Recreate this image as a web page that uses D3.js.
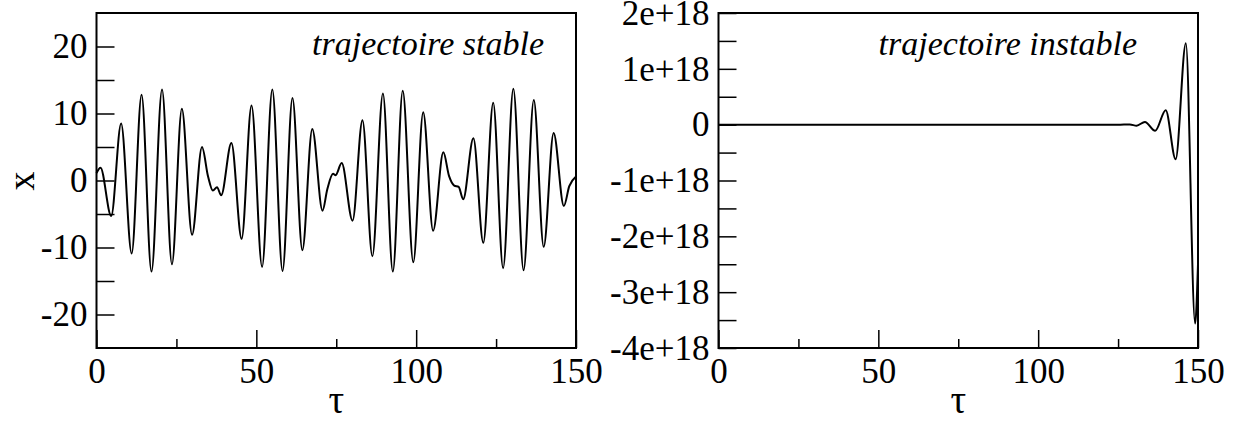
<!DOCTYPE html>
<html>
<head>
<meta charset="utf-8">
<script src="https://cdn.jsdelivr.net/npm/d3@7"></script>
<style>
  html, body { margin: 0; padding: 0; background: #fff; }
  svg { display: block; }
  text { font-family: "Liberation Serif", "Times New Roman", serif; fill: #000; }
</style>
</head>
<body>
<svg id="chart" width="1234" height="421"></svg>
<script>
// ---- data ----
// stable trajectory: time (tau) and x, read at extrema / shoulders
const stableT = [0, 1.25, 4.6, 7.7, 11.0, 14.1, 17.2, 20.5, 23.6, 26.7, 29.9, 33.0, 34.9, 36.4, 37.7, 39.0,
  42.2, 45.4, 48.5, 51.8, 55.0, 58.2, 61.3, 64.4, 67.5, 70.7, 72.2, 74.0, 74.8, 76.7,
  80.1, 83.2, 86.3, 89.6, 92.7, 95.8, 99.1, 102.2, 105.3, 108.5, 110.3, 111.9, 113.3, 114.7,
  117.9, 121.0, 124.1, 127.2, 130.4, 133.6, 136.8, 139.9, 143.0, 146.2, 147.9, 150];
const stableX = [1.1, 1.9, -5.3, 8.5, -10.9, 12.8, -13.6, 13.6, -12.5, 10.7, -8.1, 5.0, 0.6, -1.5, -1.0, -2.2,
  5.6, -8.7, 11.2, -12.9, 13.6, -13.5, 12.3, -10.4, 7.7, -4.5, -1.3, 1.0, 0.8, 2.6,
  -6.0, 9.0, -11.3, 13.0, -13.6, 13.4, -12.2, 10.2, -7.5, 4.2, 0.65, -0.75, -0.95, -2.8,
  6.3, -9.3, 11.6, -13.1, 13.7, -13.4, 12.0, -9.9, 7.1, -3.8, -0.85, 0.6];

// unstable trajectory
const unstableT = [0, 60, 125, 128.7, 130.8, 133.4, 136.6, 139.9, 143.0, 146.2, 149.1, 150];
const unstableX = [0, 0, 0, 0.002e18, -0.018e18, 0.05e18, -0.11e18, 0.26e18, -0.62e18, 1.46e18, -3.56e18, -2.5e18];

// axis ticks
const tauTicks = [0, 50, 100, 150];
const tauMinor = [25, 75, 125];
const leftYTicks = [-20, -10, 0, 10, 20];
const leftYMinor = [-15, -5, 5, 15];
const rightYTicks = [-4e18, -3e18, -2e18, -1e18, 0, 1e18, 2e18];
const rightYMinor = [-3.5e18, -2.5e18, -1.5e18, -0.5e18, 0.5e18, 1.5e18];

const labels = { xTitle: "τ", yTitle: "x", left: "trajectoire stable", right: "trajectoire instable" };

// ---- drawing ----
const svg = d3.select("#chart");
const plotTop = 13, plotBottom = 348;
const fontTick = 35;

function panel(x0, x1, yDomain, ticksY, minorY, fmtY, T, X, note) {
  const g = svg.append("g");
  const xs = d3.scaleLinear().domain([0, 150]).range([x0, x1]);
  const ys = d3.scaleLinear().domain(yDomain).range([plotBottom, plotTop]);

  const pts = T.map((t, i) => [t, X[i]]);
  g.append("path")
    .datum(pts)
    .attr("fill", "none")
    .attr("stroke", "#000")
    .attr("stroke-width", 2)
    .attr("stroke-linejoin", "round")
    .attr("d", d3.line().x(d => xs(d[0])).y(d => ys(d[1])).curve(d3.curveMonotoneX));

  const ax = g.append("g").attr("transform", `translate(0,${plotBottom})`)
    .call(d3.axisBottom(xs).tickValues(tauTicks).tickSize(-18).tickPadding(10).tickFormat(d => String(d)));
  const axm = g.append("g").attr("transform", `translate(0,${plotBottom})`)
    .call(d3.axisBottom(xs).tickValues(tauMinor).tickSize(-9).tickFormat(""));
  const ay = g.append("g").attr("transform", `translate(${x0},0)`)
    .call(d3.axisLeft(ys).tickValues(ticksY).tickSize(-18).tickPadding(9).tickFormat(fmtY));
  const aym = g.append("g").attr("transform", `translate(${x0},0)`)
    .call(d3.axisLeft(ys).tickValues(minorY).tickSize(-18).tickFormat(""));

  [ax, axm, ay, aym].forEach(a => {
    a.select(".domain").remove();
    a.selectAll(".tick line").attr("stroke", "#000").attr("stroke-width", 1.5);
    a.selectAll("text").style("font-family", '"Liberation Serif", "Times New Roman", serif')
      .style("font-size", fontTick + "px").attr("fill", "#000");
  });

  g.append("rect")
    .attr("x", x0).attr("y", plotTop)
    .attr("width", x1 - x0).attr("height", plotBottom - plotTop)
    .attr("fill", "none").attr("stroke", "#000").attr("stroke-width", 2);

  g.append("text")
    .attr("x", (x0 + x1) / 2).attr("y", 413)
    .attr("text-anchor", "middle")
    .style("font-size", "39px")
    .text(labels.xTitle);

  g.append("text")
    .attr("x", note.x).attr("y", 55)
    .attr("text-anchor", "end")
    .style("font-size", "34px").style("font-style", "italic")
    .text(note.text);
  return { xs, ys };
}

panel(96.5, 576, [-25, 25], leftYTicks, leftYMinor, d => String(d), stableT, stableX,
  { x: 544, text: labels.left });

panel(718.5, 1198, [-4e18, 2e18], rightYTicks, rightYMinor,
  d => d === 0 ? "0" : String(Math.round(d / 1e18)) + "e+18",
  unstableT, unstableX, { x: 1137, text: labels.right });

svg.append("text")
  .attr("transform", "translate(34,181) rotate(-90)")
  .attr("text-anchor", "middle")
  .style("font-size", "38px")
  .text(labels.yTitle);
</script>
</body>
</html>
